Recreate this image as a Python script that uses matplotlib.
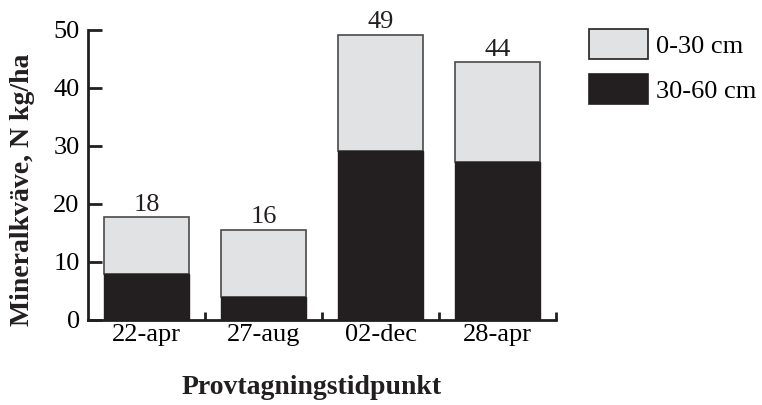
import matplotlib
matplotlib.use("Agg")
import matplotlib.pyplot as plt
from matplotlib.patches import Patch
import numpy as np

categories = ["22-apr", "27-aug", "02-dec", "28-apr"]
deep_30_60 = [7.9, 4.0, 29.2, 27.2]
top_0_30 = [9.8, 11.6, 20.0, 17.2]
total_labels = ["18", "16", "49", "44"]
yticks = [0, 10, 20, 30, 40, 50]

plt.rcParams["font.family"] = ["Liberation Serif", "DejaVu Serif"]
FS = 19
FSB = 20

fig = plt.figure(figsize=(7.62, 4.05), dpi=100)
ax = fig.add_axes([88/762, 1-320/405, (556-88)/762, (320-30)/405])

dark = "#231f20"
light = "#e1e2e4"
x = np.arange(len(categories))
w = 0.72
ax.bar(x, top_0_30, width=w, bottom=deep_30_60, color=light, edgecolor="#4a4a4a", linewidth=1.2, zorder=2)
ax.bar(x, deep_30_60, width=w, color=dark, edgecolor=dark, linewidth=1, zorder=3)

for xi, d, t, lab in zip(x, deep_30_60, top_0_30, total_labels):
    ax.text(xi, d + t + 0.3, lab, ha="center", va="bottom", fontsize=FS, color="#231f20")

ax.set_xlim(-0.5, 3.5)
ax.set_ylim(0, 50)
ax.set_yticks(yticks)
ax.set_yticklabels([str(v) for v in yticks], fontsize=FS)
ax.set_xticks(x)
ax.set_xticklabels(categories, fontsize=FS)
ax.set_xticks([0.5, 1.5, 2.5, 3.5], minor=True)
ax.tick_params(axis="x", which="major", length=0, pad=3)
ax.tick_params(axis="x", which="minor", direction="in", length=6, width=2, color="#231f20")
ax.tick_params(axis="y", direction="in", length=10, width=2, pad=6, color="#231f20")
for s in ["top", "right"]:
    ax.spines[s].set_visible(False)
for s in ["left", "bottom"]:
    ax.spines[s].set_linewidth(2)
    ax.spines[s].set_color("#231f20")

fig.text(23/762, 1-190/405, "Mineralkväve, N kg/ha", rotation=90, ha="center", va="center",
         fontsize=FSB, fontweight="bold", color="#231f20")
fig.text(312/762, 1-387/405, "Provtagningstidpunkt", ha="center", va="center",
         fontsize=FSB, fontweight="bold", color="#231f20")

handles = [Patch(facecolor=light, edgecolor=dark, linewidth=1.2),
           Patch(facecolor=dark, edgecolor=dark, linewidth=1.2)]
fig.legend(handles, ["0-30 cm", "30-60 cm"], loc="upper left",
           bbox_to_anchor=(589/762, 1-29/405), frameon=False, fontsize=FS,
           handlelength=2.25, handleheight=1.4, handletextpad=0.3,
           labelspacing=0.55, borderaxespad=0, borderpad=0)

fig.savefig("out.png", dpi=100)
